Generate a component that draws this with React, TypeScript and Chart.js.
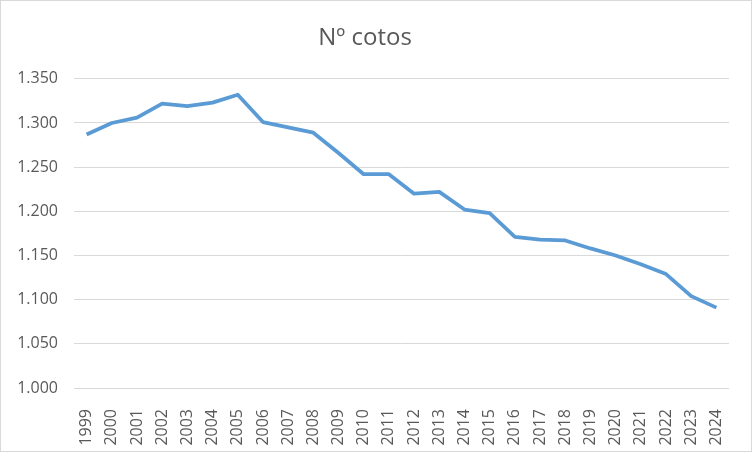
import { useEffect, useRef } from 'react';
import { Chart, registerables } from 'chart.js';

Chart.register(...registerables);

const years = [
  '1999', '2000', '2001', '2002', '2003', '2004', '2005', '2006', '2007',
  '2008', '2009', '2010', '2011', '2012', '2013', '2014', '2015', '2016',
  '2017', '2018', '2019', '2020', '2021', '2022', '2023', '2024',
];
const cotos = [
  1287, 1300, 1306, 1322, 1319, 1323, 1332, 1301, 1295,
  1289, 1266, 1242, 1242, 1220, 1222, 1202, 1198, 1171,
  1168, 1167, 1158, 1150, 1140, 1129, 1104, 1091,
];
const yMin = 1000;
const yMax = 1350;
const yStep = 50;

const FONT = "'Open Sans', 'Liberation Sans', sans-serif";

export default function App() {
  const chartRef = useRef<HTMLCanvasElement>(null);

  useEffect(() => {
    document.body.style.margin = '0';
    if (!chartRef.current) return;
    const ctx = chartRef.current.getContext('2d');
    if (!ctx) return;

    const chart = new Chart(ctx, {
      type: 'line',
      data: {
        labels: years,
        datasets: [{
          label: 'Nº cotos',
          data: cotos,
          borderColor: '#5b9bd5',
          borderWidth: 3.75,
          pointRadius: 0,
          tension: 0,
          borderJoinStyle: 'round',
          fill: false,
        }],
      },
      options: {
        animation: false,
        responsive: true,
        maintainAspectRatio: false,
        layout: { padding: { left: 0, right: 22, top: 0, bottom: 0 } },
        plugins: {
          legend: { display: false },
          tooltip: { enabled: false },
          title: {
            display: true,
            text: 'Nº cotos',
            color: '#595959',
            font: { family: FONT, size: 24, weight: 'normal' },
            padding: { top: 23, bottom: 26 },
          },
        },
        scales: {
          y: {
            min: yMin,
            max: yMax,
            border: { display: false },
            grid: { color: '#d9d9d9', lineWidth: 1, drawTicks: false },
            ticks: {
              stepSize: yStep,
              color: '#595959',
              padding: 16,
              font: { family: FONT, size: 16 },
              callback: (v) => Number(v).toLocaleString('de-DE', { minimumFractionDigits: 0 }),
            },
            afterFit: (scale) => { scale.width = 73; },
          },
          x: {
            offset: true,
            border: { display: false },
            grid: { display: false },
            ticks: {
              color: '#595959',
              minRotation: 90,
              maxRotation: 90,
              padding: 13,
              autoSkip: false,
              font: { family: FONT, size: 16 },
            },
            afterFit: (scale) => { scale.height = 63; },
          },
        },
      },
    });

    return () => chart.destroy();
  }, []);

  return (
    <div style={{
      position: 'fixed', left: 0, top: 0, width: 752, height: 452,
      boxSizing: 'border-box', border: '1px solid #d9d9d9', background: '#fff',
    }}>
      <canvas ref={chartRef} />
    </div>
  );
}
